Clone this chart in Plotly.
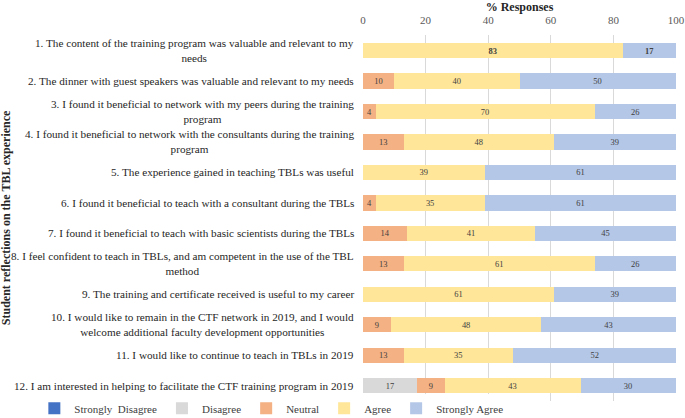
import plotly.graph_objects as go

statements = [
    "1. The content of the training program was valuable and relevant to my<br>needs",
    "2. The dinner with guest speakers was valuable and relevant to my needs",
    "3. I found it beneficial to network with my peers during the training<br>program",
    "4. I found it beneficial to network with the consultants during the training<br>program",
    "5. The experience gained in teaching TBLs was useful",
    "6. I found it beneficial to teach with a consultant during the TBLs",
    "7. I found it beneficial to teach with basic scientists during the TBLs",
    "8. I feel confident to teach in TBLs, and am competent in the use of the TBL<br>method",
    "9. The training and certificate received is useful to my career",
    "10. I would like to remain in the CTF network in 2019, and I would<br>welcome additional faculty development opportunities",
    "11. I would like to continue to teach in TBLs in 2019",
    "12. I am interested in helping to facilitate the CTF training program in 2019",
]
ids = [f"Q{i+1}" for i in range(len(statements))]

strongly_disagree = [0, 0, 0, 0, 0, 0, 0, 0, 0, 0, 0, 0]
disagree =          [0, 0, 0, 0, 0, 0, 0, 0, 0, 0, 0, 17.4]
neutral =           [0, 10, 4, 13, 0, 4, 14, 13, 0, 9, 13, 8.7]
agree =             [83, 40, 70, 48, 39, 35, 41, 61, 61, 48, 35, 43.4]
strongly_agree =    [17, 50, 26, 39, 61, 61, 45, 26, 39, 43, 52, 30.4]

series = [
    ("Strongly  Disagree", strongly_disagree, "#4472C4"),
    ("Disagree", disagree, "#D9D9D9"),
    ("Neutral", neutral, "#F4B183"),
    ("Agree", agree, "#FFE699"),
    ("Strongly Agree", strongly_agree, "#B4C7E7"),
]

FONT = "Liberation Serif"

fig = go.Figure()
for name, vals, color in series:
    txt = []
    for i, v in enumerate(vals):
        if v == 0:
            txt.append("")
        elif i == 0:
            txt.append(f"<b>{round(v)}</b>")
        else:
            txt.append(str(round(v)))
    fig.add_trace(go.Bar(
        name=name, y=ids, x=vals, orientation="h",
        marker=dict(color=color, line=dict(width=0)),
        text=txt, textposition="inside", insidetextanchor="middle", textangle=0,
        textfont=dict(family=FONT, size=11, color="#404040"),
    ))

annotations = []
for cid, s in zip(ids, statements):
    annotations.append(dict(
        x=0, xref="paper", y=cid, yref="y", text=s, showarrow=False,
        xanchor="right", yanchor="middle", align="center", xshift=-7,
        font=dict(family=FONT, size=11.2, color="#262626"),
    ))
annotations.append(dict(
    x=-1.14, xref="paper", y=0.5, yref="paper",
    text="<b>Student reflections on the TBL experience</b>", textangle=-90,
    showarrow=False, xanchor="center", yanchor="middle",
    font=dict(family=FONT, size=12, color="#262626"),
))

fig.update_layout(
    width=685, height=418,
    barmode="stack", bargap=0.5,
    plot_bgcolor="white", paper_bgcolor="white",
    margin=dict(l=363, r=9, t=35, b=17, autoexpand=False),
    font=dict(family=FONT, color="#404040"),
    xaxis=dict(
        side="top", range=[0, 100], tickvals=[0, 20, 40, 60, 80, 100],
        showgrid=True, gridcolor="#D9D9D9", gridwidth=1, zeroline=False,
        showline=False, ticks="", ticklabelstandoff=8,
        tickfont=dict(family=FONT, size=11, color="#595959"),
        title=dict(text="<b>% Responses</b>", standoff=0,
                   font=dict(family=FONT, size=12, color="#262626")),
        automargin=False,
    ),
    yaxis=dict(
        categoryorder="array", categoryarray=ids, autorange="reversed",
        showticklabels=False, showgrid=False, zeroline=False, ticks="",
    ),
    showlegend=True,
    legend=dict(
        orientation="h", x=-1.05, xanchor="left", y=-0.02,
        yanchor="middle", traceorder="normal",
        font=dict(family=FONT, size=11, color="#404040"),
        itemwidth=30, tracegroupgap=0,
    ),
    annotations=annotations,
)

fig.write_html("out.html", config={"displayModeBar": False},
               post_script="document.body.style.margin='0';")
